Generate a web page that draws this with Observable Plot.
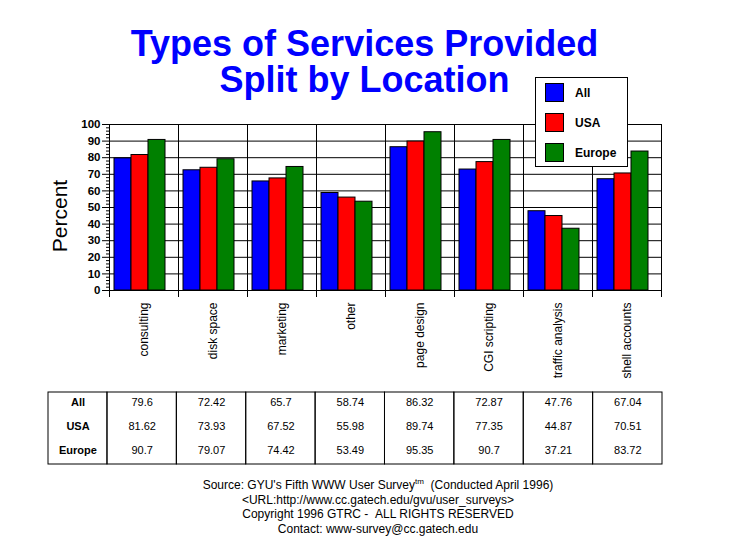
<!DOCTYPE html>
<html>
<head>
<meta charset="utf-8">
<script src="https://cdn.jsdelivr.net/npm/d3@7"></script>
<script src="https://cdn.jsdelivr.net/npm/@observablehq/plot@0.6"></script>
<style>
  html, body { margin: 0; padding: 0; background: white; }
  #wrap { position: relative; width: 729px; height: 553px; overflow: hidden; font-family: Arial, "Liberation Sans", sans-serif; background: white; }
  #wrap > * { position: absolute; }
  .title { left: 0; width: 729px; text-align: center; color: #0000ff; font-weight: bold; font-size: 36px; line-height: 33px; white-space: nowrap; }
  #ylabel { left: 60px; top: 216px; transform: translate(-50%, -50%) rotate(-90deg); font-size: 21px; color: black; white-space: nowrap; }
  #legend { left: 535px; top: 77px; width: 93px; height: 90px; box-sizing: border-box; border: 1px solid black; background: white; }
  .sw { position: absolute; left: 9px; width: 19px; height: 19px; border: 1px solid black; box-sizing: border-box; }
  .lb { position: absolute; left: 39px; font-size: 12px; font-weight: bold; line-height: 14px; }
  #footer { left: 0; width: 756px; top: 478px; text-align: center; font-size: 12px; line-height: 14.6px; color: black; }
  #footer sup { font-size: 8px; line-height: 0; vertical-align: 5px; }
</style>
</head>
<body>
<div id="wrap">
  <div id="chart" style="left:0;top:0"></div>
  <div class="title" style="top:27px">Types of Services Provided</div>
  <div class="title" style="top:63px">Split by Location</div>
  <div id="ylabel">Percent</div>
  <div id="legend"></div>
  <div id="table" style="left:0;top:388px"></div>
  <div id="footer">Source: GYU's Fifth WWW User Survey<sup>tm</sup>&nbsp; (Conducted April 1996)<br>&lt;URL:http://www.cc.gatech.edu/gvu/user_surveys&gt;<br>Copyright 1996 GTRC - &nbsp;ALL RIGHTS RESERVED<br>Contact: www-survey@cc.gatech.edu</div>
</div>
<script>
const categories = ["consulting", "disk space", "marketing", "other", "page design", "CGI scripting", "traffic analysis", "shell accounts"];
const series = ["All", "USA", "Europe"];
const allValues = [79.6, 72.42, 65.7, 58.74, 86.32, 72.87, 47.76, 67.04];
const usaValues = [81.62, 73.93, 67.52, 55.98, 89.74, 77.35, 44.87, 70.51];
const europeValues = [90.7, 79.07, 74.42, 53.49, 95.35, 90.7, 37.21, 83.72];
const colors = ["#0000ff", "#ff0000", "#008000"];
const yTicks = [0, 10, 20, 30, 40, 50, 60, 70, 80, 90, 100];
const yMinorTicks = [2,4,6,8,12,14,16,18,22,24,26,28,32,34,36,38,42,44,46,48,52,54,56,58,62,64,66,68,72,74,76,78,82,84,86,88,92,94,96,98];

const valuesBySeries = {All: allValues, USA: usaValues, Europe: europeValues};
const data = categories.flatMap((c, i) => series.map(s => ({category: c, index: i, series: s, value: valuesBySeries[s][i]})));

const font = "Arial, 'Liberation Sans', sans-serif";

const chart = Plot.plot({
  width: 729,
  height: 390,
  marginTop: 124,
  marginBottom: 100,
  marginLeft: 107,
  marginRight: 67,
  style: {fontFamily: font, background: "white", color: "black"},
  fx: {domain: categories, padding: 0, label: null},
  x: {domain: series, paddingInner: 0, paddingOuter: 0.5, align: 0.25, axis: null},
  y: {domain: [0, 100]},
  color: {domain: series, range: colors},
  marks: [
    Plot.ruleY(yTicks, {stroke: "black", strokeWidth: 1}),
    Plot.frame({stroke: "black", strokeWidth: 1}),
    Plot.frame({anchor: "left", stroke: "black", insetBottom: -6}),
    Plot.frame({anchor: "right", stroke: "black", insetBottom: -6}),
    Plot.barY(data, {fx: "category", x: "series", y: "value", fill: "series", stroke: "black", strokeWidth: 1}),
    Plot.axisY(yTicks, {tickSize: 7, tickPadding: 2, fontSize: 11.5, fontWeight: "bold", label: null, strokeOpacity: 1}),
    Plot.axisY(yMinorTicks, {tickSize: 3, tickFormat: () => "", label: null}),
    Plot.axisFx({anchor: "bottom", tickSize: 0, tickPadding: 12, tickRotate: -90, textAnchor: "end", fontSize: 12, label: null})
  ]
});
document.getElementById("chart").appendChild(chart);

// legend built from series + colors
const legend = document.getElementById("legend");
series.forEach((s, i) => {
  const sw = document.createElement("div");
  sw.className = "sw";
  sw.style.top = (5 + i * 30) + "px";
  sw.style.background = colors[i];
  legend.appendChild(sw);
  const lb = document.createElement("div");
  lb.className = "lb";
  lb.style.top = (8 + i * 30) + "px";
  lb.textContent = s;
  legend.appendChild(lb);
});

// data table
const tableData = data.map(d => ({...d, label: String(d.value)}));
const table = Plot.plot({
  width: 729,
  height: 80,
  marginTop: 4,
  marginBottom: 4,
  marginLeft: 48,
  marginRight: 67,
  style: {fontFamily: font, background: "white", color: "black"},
  x: {domain: [-0.85, categories.length], axis: null},
  y: {type: "band", domain: series, padding: 0, axis: null},
  marks: [
    Plot.rect(categories, {x1: (d, i) => i, x2: (d, i) => i + 1, stroke: "black", fill: "none"}),
    Plot.rect([0], {x1: -0.85, x2: 0, stroke: "black", fill: "none"}),
    Plot.text(series, {x: -0.425, y: d => d, text: d => d, fontWeight: "bold", fontSize: 11, dy: -2}),
    Plot.text(tableData, {x: d => d.index + 0.5, y: "series", text: "label", fontSize: 11, dy: -2})
  ]
});
document.getElementById("table").appendChild(table);
</script>
</body>
</html>
